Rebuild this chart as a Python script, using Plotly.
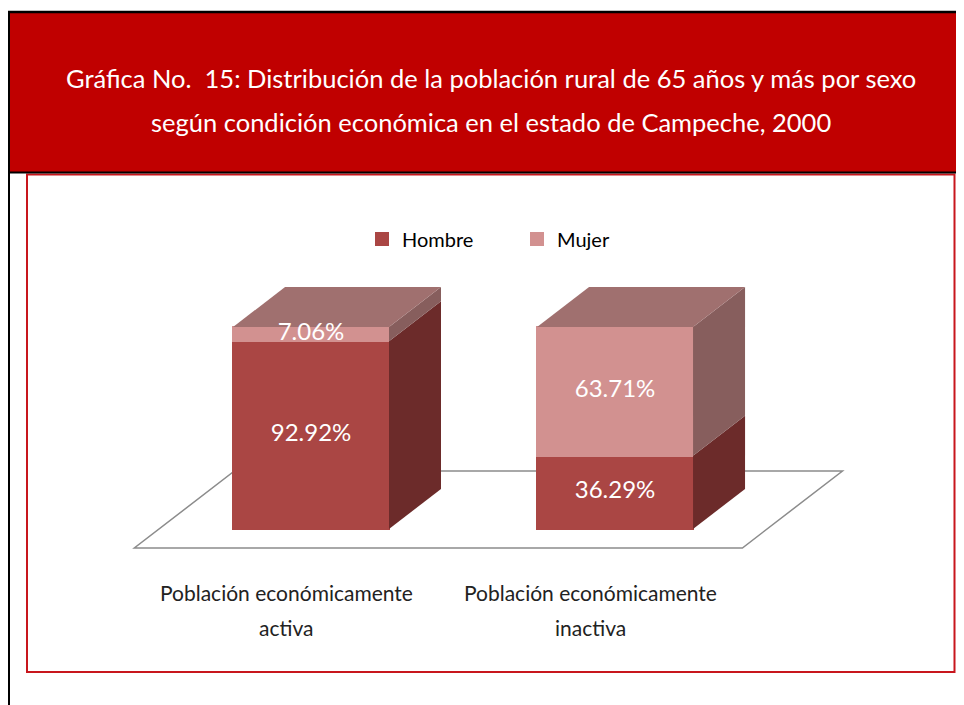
import plotly.graph_objects as go

# ---------------- data ----------------
categories = ["Población económicamente activa", "Población económicamente inactiva"]
cat_line1 = ["Población económicamente", "Población económicamente"]
cat_line2 = ["activa", "inactiva"]
series_names = ["Hombre", "Mujer"]
hombre = [92.92, 36.29]
mujer = [7.06, 63.71]
title_line1 = "Gráfica No.  15: Distribución de la población rural de 65 años y más por sexo"
title_line2 = "según condición económica en el estado de Campeche, 2000"

# ---------------- style ----------------
W_PX, H_PX = 964, 705
OFF = 8                # page body margin
FONT = "Lato"
FRONT = {"Hombre": "#AA4644", "Mujer": "#D29190"}
SIDE = {"Hombre": "#6C2B2A", "Mujer": "#875E5D"}
TOP = "#A0706F"
BAR_W = 0.513          # bar width in category units
DX = 0.171             # depth offset per unit depth (category units)
DY = 19.8              # depth offset per unit depth (percent units)
FLOOR_X = (-0.5, 1.5)  # floor extent (category units)
FLOOR_Z = (-0.475, 1.45)
X_RANGE = (-0.9967, 2.174)
Y_RANGE = (-91.09, 257.9)


def proj(x, y, z):
    return x + z * DX, y + z * DY


def px(xp):
    return (xp - OFF) / W_PX


def py(yp):
    return 1 - (yp - OFF) / H_PX


fig = go.Figure()

# front faces (stacked bars)
xs = list(range(len(categories)))
for name, vals in zip(series_names, [hombre, mujer]):
    fig.add_trace(go.Bar(
        x=xs, y=vals, name=name, width=BAR_W,
        marker=dict(color=FRONT[name], line=dict(color=FRONT[name], width=2)),
        hoverinfo="skip",
    ))

# side and top faces
for i in xs:
    base = 0
    xr = i + BAR_W / 2
    xl = i - BAR_W / 2
    for name, vals in zip(series_names, [hombre, mujer]):
        v = vals[i]
        pts = [proj(xr, base, 0), proj(xr, base, 1), proj(xr, base + v, 1), proj(xr, base + v, 0)]
        fig.add_trace(go.Scatter(
            x=[p[0] for p in pts] + [pts[0][0]], y=[p[1] for p in pts] + [pts[0][1]],
            mode="lines", fill="toself", fillcolor=SIDE[name], line=dict(width=0),
            showlegend=False, hoverinfo="skip"))
        base += v
    pts = [proj(xl, base, 0), proj(xr, base, 0), proj(xr, base, 1), proj(xl, base, 1)]
    fig.add_trace(go.Scatter(
        x=[p[0] for p in pts] + [pts[0][0]], y=[p[1] for p in pts] + [pts[0][1]],
        mode="lines", fill="toself", fillcolor=TOP, line=dict(width=0),
        showlegend=False, hoverinfo="skip"))

# value labels
lx, ly, lt = [], [], []
for i in xs:
    base = 0
    for vals in [hombre, mujer]:
        v = vals[i]
        lx.append(i)
        ly.append(base + v / 2)
        lt.append(f"{v:.2f}%")
        base += v
fig.add_trace(go.Scatter(x=lx, y=ly, text=lt, mode="text",
                         textfont=dict(family=FONT, size=24, color="white"),
                         showlegend=False, hoverinfo="skip"))

# floor
fpts = [proj(FLOOR_X[0], 0, FLOOR_Z[0]), proj(FLOOR_X[1], 0, FLOOR_Z[0]),
        proj(FLOOR_X[1], 0, FLOOR_Z[1]), proj(FLOOR_X[0], 0, FLOOR_Z[1])]
path = "M " + " L ".join(f"{a},{b}" for a, b in fpts) + " Z"
shapes = [
    # title band
    dict(type="rect", xref="paper", yref="paper", x0=px(9), x1=px(980), y0=py(172), y1=py(12),
         fillcolor="#C00000", line=dict(width=0), layer="below"),
    dict(type="line", xref="paper", yref="paper", x0=px(8), x1=px(980), y0=py(12), y1=py(12),
         line=dict(color="black", width=2.5)),
    dict(type="line", xref="paper", yref="paper", x0=px(8), x1=px(980), y0=py(172.5), y1=py(172.5),
         line=dict(color="black", width=2)),
    dict(type="line", xref="paper", yref="paper", x0=px(9), x1=px(9), y0=py(11), y1=py(720),
         line=dict(color="black", width=2)),
    # inner red frame
    dict(type="rect", xref="paper", yref="paper", x0=px(27), x1=px(954.5), y0=py(672), y1=py(174.5),
         line=dict(color="#C8161D", width=2), fillcolor="rgba(0,0,0,0)", layer="below"),
    # floor
    dict(type="path", xref="x", yref="y", path=path, layer="below",
         line=dict(color="#8C8C8C", width=1.5), fillcolor="white"),
]

annotations = [
    dict(xref="paper", yref="paper", x=px(491), y=py(78), text=title_line1, showarrow=False,
         font=dict(family=FONT, size=25.5, color="white"), xanchor="center", yanchor="middle"),
    dict(xref="paper", yref="paper", x=px(491), y=py(122), text=title_line2, showarrow=False,
         font=dict(family=FONT, size=25.5, color="white"), xanchor="center", yanchor="middle"),
]
for i in xs:
    lxp = i + FLOOR_Z[0] * DX
    annotations.append(dict(xref="x", yref="paper", x=lxp, y=py(592), text=cat_line1[i], showarrow=False,
                            font=dict(family=FONT, size=21, color="#222222"), yanchor="middle"))
    annotations.append(dict(xref="x", yref="paper", x=lxp, y=py(627), text=cat_line2[i], showarrow=False,
                            font=dict(family=FONT, size=21, color="#222222"), yanchor="middle"))

fig.update_layout(
    width=W_PX, height=H_PX,
    margin=dict(l=0, r=0, t=0, b=0),
    paper_bgcolor="white", plot_bgcolor="rgba(0,0,0,0)",
    barmode="stack",
    showlegend=True,
    legend=dict(orientation="h", x=px(362), y=py(239), xanchor="left", yanchor="middle",
                font=dict(family=FONT, size=20, color="black"),
                entrywidth=110, entrywidthmode="pixels", bgcolor="rgba(0,0,0,0)",
                traceorder="normal"),
    xaxis=dict(range=list(X_RANGE), visible=False, fixedrange=True),
    yaxis=dict(range=list(Y_RANGE), visible=False, fixedrange=True),
    shapes=shapes, annotations=annotations,
)

fig.write_html("out.html")
